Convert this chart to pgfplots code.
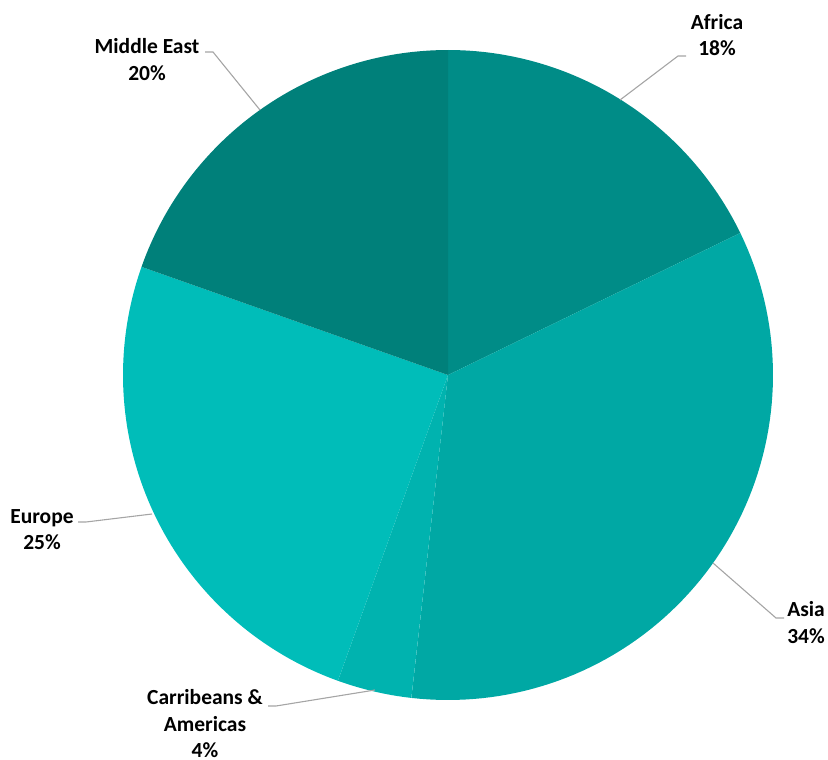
\documentclass[border=0pt]{standalone}
\usepackage{pgfplots}
\pgfplotsset{compat=1.18}
\usepackage{fontspec}
\setmainfont{Carlito}
\definecolor{cAfrica}{RGB}{0,140,135}
\definecolor{cAsia}{RGB}{0,168,164}
\definecolor{cCarib}{RGB}{0,179,175}
\definecolor{cEurope}{RGB}{0,189,185}
\definecolor{cME}{RGB}{0,128,122}
\definecolor{cLead}{RGB}{165,165,165}
\tikzset{lbl/.style={font=\fontsize{21.5}{26.5}\selectfont\bfseries, align=center, inner sep=0pt}}
% shares in percent (clockwise from 12 o'clock)
\def\vAfrica{17.8}
\def\vAsia{34.0}
\def\vCarib{3.7}
\def\vEurope{24.9}
\def\vME{19.6}
\pgfmathsetmacro{\aA}{0}
\pgfmathsetmacro{\aB}{\aA+3.6*\vAfrica}
\pgfmathsetmacro{\aC}{\aB+3.6*\vAsia}
\pgfmathsetmacro{\aD}{\aC+3.6*\vCarib}
\pgfmathsetmacro{\aE}{\aD+3.6*\vEurope}
\pgfmathsetmacro{\aF}{\aE+3.6*\vME}
\def\cx{448}
\def\cy{375}
\def\R{325}
\newcommand{\pieslice}[3]{%
  \addplot[fill=#1, draw=none, domain=#2:#3, samples=80, variable=\t]
    ({\cx+\R*sin(\t)},{\cy-\R*cos(\t)}) -- (axis cs:\cx,\cy) -- cycle;}
\begin{document}
\begin{tikzpicture}
\begin{axis}[
  scale only axis, width=828pt, height=760pt,
  xmin=0, xmax=828, ymin=0, ymax=760, y dir=reverse,
  hide axis, clip=false]
\pieslice{cAfrica}{\aA}{\aB}
\pieslice{cAsia}{\aB}{\aC}
\pieslice{cCarib}{\aC}{\aD}
\pieslice{cEurope}{\aD}{\aE}
\pieslice{cME}{\aE}{\aF}
% leader lines
\addplot[cLead, line width=1.1pt] coordinates {(620,100) (678,56) (686,56)};
\addplot[cLead, line width=1.1pt] coordinates {(713,563) (776,618) (784,618)};
\addplot[cLead, line width=1.1pt] coordinates {(375,690) (276,706) (268,706)};
\addplot[cLead, line width=1.1pt] coordinates {(152,514) (86,522) (78,522)};
\addplot[cLead, line width=1.1pt] coordinates {(260,110) (213,52) (205,52)};
% labels
\node[lbl] at (axis cs:717,35) {Africa\\18\%};
\node[lbl] at (axis cs:806,622.5) {Asia\\34\%};
\node[lbl] at (axis cs:205,724) {Carribeans \&\\Americas\\4\%};
\node[lbl] at (axis cs:42,529.5) {Europe\\25\%};
\node[lbl] at (axis cs:147,59.5) {Middle East\\20\%};
\path (axis cs:0,0) rectangle (axis cs:828,760);
\end{axis}
\end{tikzpicture}
\end{document}
